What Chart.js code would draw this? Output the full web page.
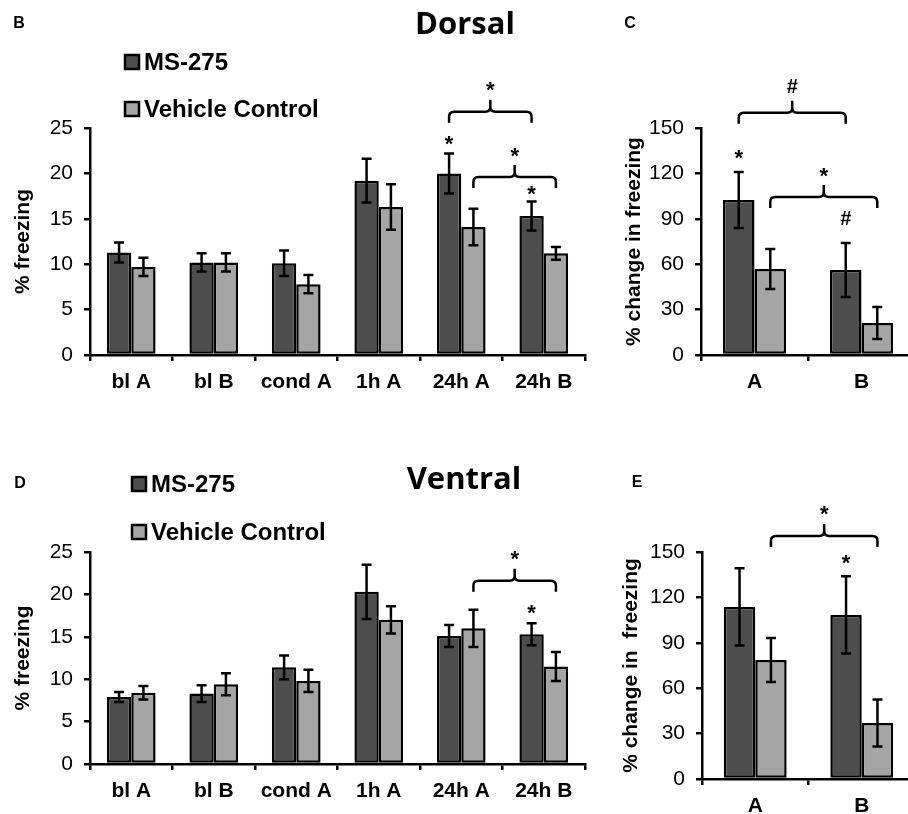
<!DOCTYPE html>
<html>
<head>
<meta charset="utf-8">
<script src="https://cdn.jsdelivr.net/npm/chart.js@4.4.1/dist/chart.umd.min.js"></script>
<style>
  html, body { margin: 0; padding: 0; background: #fff; width: 908px; height: 814px; overflow: hidden; }
  canvas { position: absolute; }
</style>
</head>
<body>
<canvas id="dorsal" width="590" height="410" style="left:0;top:0"></canvas>
<canvas id="dorsalChange" width="340" height="410" style="left:580px;top:0"></canvas>
<canvas id="ventral" width="590" height="404" style="left:0;top:410px"></canvas>
<canvas id="ventralChange" width="340" height="404" style="left:580px;top:410px"></canvas>
<script>
const sessions = ['bl A', 'bl B', 'cond A', '1h A', '24h A', '24h B'];
const tests = ['A', 'B'];
const seriesNames = ['MS-275', 'Vehicle Control'];
const freezingTicks = [0, 5, 10, 15, 20, 25];
const changeTicks = [0, 30, 60, 90, 120, 150];

// dorsal, % freezing
const dorsalMs = [11.3, 10.2, 10.1, 19.2, 20.0, 15.3];
const dorsalMsErr = [1.1, 1.0, 1.4, 2.4, 2.2, 1.6];
const dorsalVeh = [9.7, 10.2, 7.8, 16.3, 14.1, 11.2];
const dorsalVehErr = [1.0, 1.0, 1.0, 2.5, 2.0, 0.7];

// dorsal, % change in freezing
const dorsalChangeMs = [102.4, 56.2];
const dorsalChangeMsErr = [18.5, 17.8];
const dorsalChangeVeh = [56.8, 21.1];
const dorsalChangeVehErr = [13.2, 10.6];

// ventral, % freezing
const ventralMs = [7.9, 8.3, 11.4, 20.3, 15.1, 15.3];
const ventralMsErr = [0.6, 1.0, 1.4, 3.2, 1.3, 1.3];
const ventralVeh = [8.4, 9.4, 9.8, 17.0, 16.0, 11.5];
const ventralVehErr = [0.8, 1.3, 1.3, 1.6, 2.2, 1.7];

// ventral, % change in freezing
const ventralChangeMs = [113.7, 108.4];
const ventralChangeMsErr = [25.5, 25.5];
const ventralChangeVeh = [78.6, 37.0];
const ventralChangeVehErr = [14.5, 15.5];

// marks over bars: [text, category, series, y value]
const dorsalMarks = [['*', 4, 0, 23.9], ['*', 5, 0, 18.3]];
const dorsalChangeMarks = [['*', 0, 0, 134], ['#', 1, 0, 90.5]];
const ventralMarks = [['*', 5, 0, 18.5]];
const ventralChangeMarks = [['*', 1, 0, 146.7]];

// brackets: [text, from category, from series, to category, to series, y value]
const dorsalBrackets = [['*', 4, 0, 5, 0, 26.8], ['*', 4, 1, 5, 1, 19.6]];
const dorsalChangeBrackets = [['#', 0, 0, 1, 0, 160], ['*', 0, 1, 1, 1, 104.4]];
const ventralBrackets = [['*', 4, 1, 5, 1, 21.6]];
const ventralChangeBrackets = [['*', 0, 1, 1, 1, 160.6]];

const DARK = '#4d4d4d';
const LIGHT = '#a5a5a5';
const SANS = '"Liberation Sans", Arial, sans-serif';
Chart.defaults.font.family = SANS;
Chart.defaults.color = '#000';

function drawMark(ctx, text, x, y) {
  const size = text === '*' ? 22 : 20;
  ctx.font = `bold ${size}px ${SANS}`;
  ctx.textAlign = 'center';
  ctx.textBaseline = 'alphabetic';
  ctx.fillText(text, x, y + (text === '*' ? 0.57 : 0.36) * size);
}

function drawBracket(ctx, x1, x2, y, text) {
  const r = 5, xm = (x1 + x2) / 2;
  ctx.beginPath();
  ctx.moveTo(x1, y + 11);
  ctx.lineTo(x1, y + r);
  ctx.quadraticCurveTo(x1, y, x1 + r, y);
  ctx.lineTo(xm - r, y);
  ctx.quadraticCurveTo(xm, y, xm, y - r);
  ctx.lineTo(xm, y - 12);
  ctx.moveTo(xm, y - r);
  ctx.quadraticCurveTo(xm, y, xm + r, y);
  ctx.lineTo(x2 - r, y);
  ctx.quadraticCurveTo(x2, y, x2, y + r);
  ctx.lineTo(x2, y + 11);
  ctx.stroke();
  drawMark(ctx, text, xm, y - 27);
}

function decor(cfg) {
  return {
    id: 'decor',
    afterDatasetsDraw(chart) {
      const ctx = chart.ctx, ys = chart.scales.y;
      ctx.save();
      ctx.strokeStyle = '#000';
      ctx.lineWidth = 2.5;
      chart.data.datasets.forEach((ds, d) => {
        chart.getDatasetMeta(d).data.forEach((bar, i) => {
          const v = ds.data[i], e = cfg.errors[d][i];
          const top = ys.getPixelForValue(v + e), bot = ys.getPixelForValue(v - e);
          ctx.beginPath();
          ctx.moveTo(bar.x, top); ctx.lineTo(bar.x, bot);
          ctx.moveTo(bar.x - 5, top); ctx.lineTo(bar.x + 5, top);
          ctx.moveTo(bar.x - 5, bot); ctx.lineTo(bar.x + 5, bot);
          ctx.stroke();
        });
      });
      ctx.restore();
    },
    afterDraw(chart) {
      const ctx = chart.ctx, ys = chart.scales.y;
      const barX = (cat, s) => chart.getDatasetMeta(s).data[cat].x;
      ctx.save();
      ctx.fillStyle = '#000';
      ctx.strokeStyle = '#000';
      ctx.lineWidth = 2.5;
      cfg.marks.forEach(([t, c, s, v]) => drawMark(ctx, t, barX(c, s), ys.getPixelForValue(v)));
      cfg.brackets.forEach(([t, c1, s1, c2, s2, v]) =>
        drawBracket(ctx, barX(c1, s1), barX(c2, s2), ys.getPixelForValue(v), t));

      if (cfg.legend) {
        const L = cfg.legend;
        chart.data.datasets.forEach((ds, d) => {
          const cy = L.y[d];
          ctx.fillStyle = ds.backgroundColor;
          ctx.fillRect(L.x, cy - 7, 14, 14);
          ctx.strokeRect(L.x, cy - 7, 14, 14);
          ctx.fillStyle = '#000';
          ctx.font = `bold 24px ${SANS}`;
          ctx.textAlign = 'left';
          ctx.textBaseline = 'middle';
          ctx.fillText(ds.label, L.x + 19, cy + 1);
        });
      }
      if (cfg.title) {
        ctx.font = 'bold 31px "Open Sans", sans-serif';
        ctx.textAlign = 'center';
        ctx.textBaseline = 'middle';
        ctx.fillText(cfg.title.text, cfg.title.x, cfg.title.y);
      }
      ctx.font = `bold 16px ${SANS}`;
      ctx.textAlign = 'center';
      ctx.textBaseline = 'middle';
      ctx.fillText(cfg.letter.text, cfg.letter.x, cfg.letter.y);
      ctx.restore();
    }
  };
}

function makeChart(id, p) {
  const canvas = document.getElementById(id);
  const axisLine = { display: true, color: '#000', width: 2.5 };
  return new Chart(canvas, {
    type: 'bar',
    data: {
      labels: p.labels,
      datasets: [
        { label: seriesNames[0], data: p.ms, backgroundColor: DARK },
        { label: seriesNames[1], data: p.veh, backgroundColor: LIGHT }
      ]
    },
    options: {
      responsive: false,
      animation: false,
      devicePixelRatio: 1,
      layout: { padding: { left: 0, top: p.area.top, right: canvas.width - p.area.right, bottom: 0 } },
      datasets: {
        bar: {
          borderColor: '#000', borderWidth: 2.5, borderSkipped: false,
          categoryPercentage: 0.59, barPercentage: 1.0
        }
      },
      plugins: { legend: { display: false }, tooltip: { enabled: false } },
      scales: {
        x: {
          grid: { display: true, drawOnChartArea: false, drawTicks: true, tickLength: 6, color: '#000', lineWidth: 2.5, offset: true },
          border: axisLine,
          ticks: { color: '#000', font: { size: 21, weight: 'bold' }, padding: 9, maxRotation: 0, autoSkip: false },
          afterFit: s => { s.height = canvas.height - p.area.bottom; }
        },
        y: {
          min: p.ticks[0],
          max: p.ticks[p.ticks.length - 1],
          grid: { drawOnChartArea: false, drawTicks: true, tickLength: 6, color: '#000', lineWidth: 2.5 },
          border: axisLine,
          ticks: { stepSize: p.ticks[1] - p.ticks[0], color: '#000', font: { size: 21 }, padding: 11 },
          title: { display: true, text: p.yTitle, color: '#000', font: { size: 21, weight: 'bold' }, padding: { top: p.titlePad, bottom: 0 } },
          afterFit: s => { s.width = p.area.left; }
        }
      }
    },
    plugins: [decor(p.decor)]
  });
}

makeChart('dorsal', {
  labels: sessions, ms: dorsalMs, veh: dorsalVeh, ticks: freezingTicks,
  yTitle: '% freezing', titlePad: 11,
  area: { left: 90, top: 128, right: 585, bottom: 355 },
  decor: {
    errors: [dorsalMsErr, dorsalVehErr], marks: dorsalMarks, brackets: dorsalBrackets,
    legend: { x: 125, y: [62, 109] },
    title: { text: 'Dorsal', x: 465, y: 25 },
    letter: { text: 'B', x: 19, y: 24 }
  }
});

makeChart('dorsalChange', {
  labels: tests, ms: dorsalChangeMs, veh: dorsalChangeVeh, ticks: changeTicks,
  yTitle: '% change in freezing', titlePad: 42,
  area: { left: 121, top: 128, right: 335, bottom: 355 },
  decor: {
    errors: [dorsalChangeMsErr, dorsalChangeVehErr], marks: dorsalChangeMarks, brackets: dorsalChangeBrackets,
    letter: { text: 'C', x: 50, y: 24 }
  }
});

makeChart('ventral', {
  labels: sessions, ms: ventralMs, veh: ventralVeh, ticks: freezingTicks,
  yTitle: '% freezing', titlePad: 11,
  area: { left: 90, top: 142, right: 585, bottom: 354 },
  decor: {
    errors: [ventralMsErr, ventralVehErr], marks: ventralMarks, brackets: ventralBrackets,
    legend: { x: 132, y: [74, 122] },
    title: { text: 'Ventral', x: 464, y: 70 },
    letter: { text: 'D', x: 20, y: 74 }
  }
});

makeChart('ventralChange', {
  labels: tests, ms: ventralChangeMs, veh: ventralChangeVeh, ticks: changeTicks,
  yTitle: '% change in  freezing', titlePad: 39,
  area: { left: 122, top: 142, right: 335, bottom: 369 },
  decor: {
    errors: [ventralChangeMsErr, ventralChangeVehErr], marks: ventralChangeMarks, brackets: ventralChangeBrackets,
    letter: { text: 'E', x: 57, y: 73 }
  }
});
</script>
</body>
</html>
